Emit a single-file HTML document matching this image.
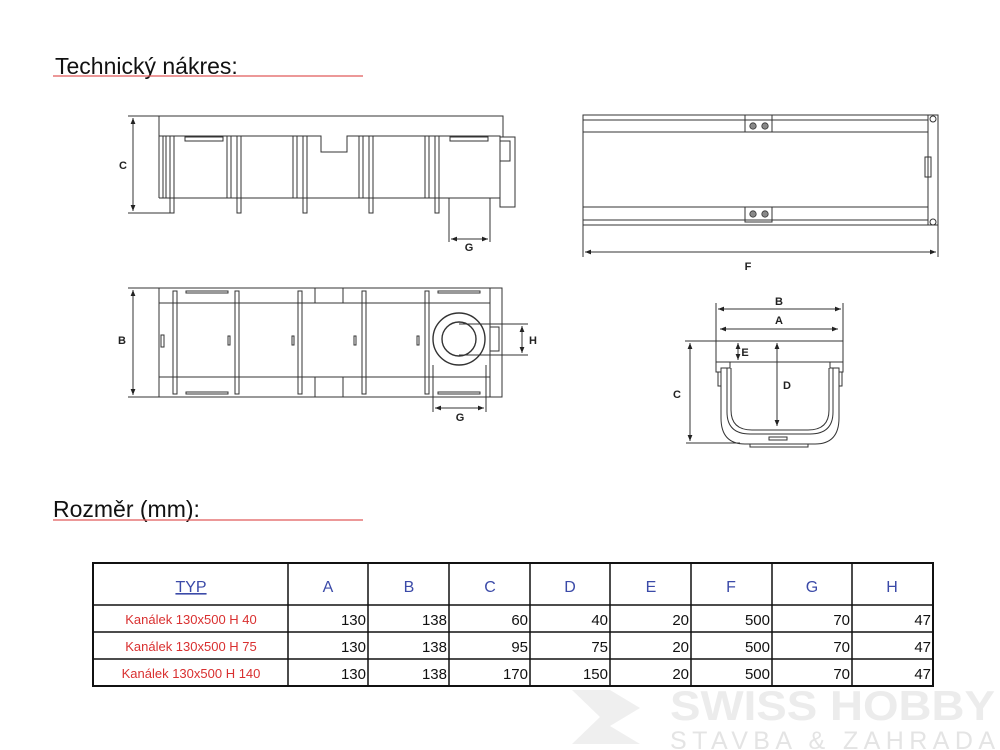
<!DOCTYPE html>
<html><head><meta charset="utf-8"><style>
html,body{margin:0;padding:0;background:#fff;}
svg{display:block}
text{font-family:"Liberation Sans",sans-serif}
</style></head><body>
<svg width="1000" height="750" viewBox="0 0 1000 750" xmlns="http://www.w3.org/2000/svg">
<defs>
<marker id="a" viewBox="0 0 10 10" refX="10" refY="5" markerWidth="6" markerHeight="6" orient="auto-start-reverse"><path d="M0,1 L10,5 L0,9z" fill="#222"/></marker>
</defs>
<rect width="1000" height="750" fill="#fff"/>
<!-- Titles -->
<text x="55" y="74" font-size="23" fill="#111">Technický nákres:</text>
<line x1="53" y1="76" x2="363" y2="76" stroke="#e05a5a" stroke-width="1.2"/>
<text x="53" y="517" font-size="23" fill="#111">Rozměr (mm):</text>
<line x1="53" y1="520" x2="363" y2="520" stroke="#e05a5a" stroke-width="1.2"/>

<g fill="none" stroke="#333" stroke-width="1">
<!-- Side view -->
<path d="M159,198 V116 H503 V137"/>
<path d="M159,136 H321 V152 H347 V136 H500 V198"/>
<line x1="159" y1="198" x2="500" y2="198"/>
<rect x="500" y="137" width="15" height="70"/>
<rect x="500" y="141" width="10" height="20"/>
<rect x="185" y="137" width="38" height="4"/>
<rect x="450" y="137" width="38" height="4"/>
<g>
<rect x="170" y="136" width="4" height="77"/><rect x="163" y="136" width="3" height="62"/>
<rect x="227" y="136" width="4" height="62"/><rect x="237" y="136" width="4" height="77"/>
<rect x="293" y="136" width="4" height="62"/><rect x="303" y="136" width="4" height="77"/>
<rect x="359" y="136" width="4" height="62"/><rect x="369" y="136" width="4" height="77"/>
<rect x="425" y="136" width="4" height="62"/><rect x="435" y="136" width="4" height="77"/>
</g>
<path d="M449,198 V213 M490,198 V213 M449,213 V242 M490,213 V242"/>
<line x1="451" y1="239" x2="488" y2="239" marker-start="url(#a)" marker-end="url(#a)"/>
<line x1="128" y1="116" x2="159" y2="116"/><line x1="128" y1="213" x2="174" y2="213"/>
<line x1="133" y1="118" x2="133" y2="211" marker-start="url(#a)" marker-end="url(#a)"/>

<!-- Plan view -->
<rect x="159" y="288" width="343" height="109"/>
<line x1="159" y1="303" x2="490" y2="303"/><line x1="159" y1="377" x2="490" y2="377"/>
<line x1="490" y1="288" x2="490" y2="397"/>
<line x1="315" y1="288" x2="315" y2="303"/><line x1="343" y1="288" x2="343" y2="303"/>
<line x1="315" y1="377" x2="315" y2="397"/><line x1="343" y1="377" x2="343" y2="397"/>
<g>
<rect x="173" y="291" width="4" height="103"/><rect x="235" y="291" width="4" height="103"/>
<rect x="298" y="291" width="4" height="103"/><rect x="362" y="291" width="4" height="103"/>
<rect x="425" y="291" width="4" height="103"/>
<rect x="186" y="291" width="42" height="2"/><rect x="186" y="392" width="42" height="2"/>
<rect x="438" y="291" width="42" height="2"/><rect x="438" y="392" width="42" height="2"/>
<rect x="161" y="335" width="3" height="12"/><rect x="228" y="336" width="2" height="9"/>
<rect x="292" y="336" width="2" height="9"/><rect x="354" y="336" width="2" height="9"/>
<rect x="417" y="336" width="2" height="9"/>
<rect x="490" y="327" width="9" height="24"/>
</g>
<circle cx="459" cy="339" r="26" stroke-width="1.4"/>
<circle cx="459" cy="339" r="17" stroke-width="1.4"/>
<path d="M459,324 H528 M459,355 H528"/>
<line x1="522" y1="326" x2="522" y2="353" marker-start="url(#a)" marker-end="url(#a)"/>
<path d="M433,365 V412 M486,365 V412"/>
<line x1="435" y1="408" x2="484" y2="408" marker-start="url(#a)" marker-end="url(#a)"/>
<line x1="128" y1="288" x2="159" y2="288"/><line x1="128" y1="397" x2="159" y2="397"/>
<line x1="133" y1="290" x2="133" y2="395" marker-start="url(#a)" marker-end="url(#a)"/>

<!-- Top right long view -->
<rect x="583" y="115" width="345" height="110"/>
<line x1="583" y1="120" x2="928" y2="120"/><line x1="583" y1="132" x2="928" y2="132"/>
<line x1="583" y1="207" x2="928" y2="207"/><line x1="583" y1="220" x2="928" y2="220"/>
<rect x="745" y="115" width="27" height="17"/><rect x="745" y="207" width="27" height="15"/>
<rect x="928" y="115" width="10" height="110"/>
<rect x="925" y="157" width="6" height="20"/>
<circle cx="933" cy="119" r="3"/><circle cx="933" cy="222" r="3"/>
<path d="M583,225 V257 M938,225 V257"/>
<line x1="585" y1="252" x2="936" y2="252" marker-start="url(#a)" marker-end="url(#a)"/>

<!-- Cross section -->
<path d="M716,303 V362 M843,303 V362"/>
<line x1="718" y1="309" x2="841" y2="309" marker-start="url(#a)" marker-end="url(#a)"/>
<line x1="720" y1="329" x2="838" y2="329" marker-start="url(#a)" marker-end="url(#a)"/>
<line x1="685" y1="341" x2="843" y2="341"/>
<line x1="686" y1="443" x2="740" y2="443"/>
<line x1="690" y1="343" x2="690" y2="441" marker-start="url(#a)" marker-end="url(#a)"/>
<line x1="738" y1="343" x2="738" y2="360" marker-start="url(#a)" marker-end="url(#a)"/>
<line x1="777" y1="343" x2="777" y2="426" marker-start="url(#a)" marker-end="url(#a)"/>
<path d="M716,362 H730 V368 H721 V418 Q721,444 745,444 H815 Q839,444 839,418 V368 H830 V362 H843"/>
<path d="M730,362 H830"/>
<path d="M716,362 V372 H721 M843,362 V372 H839"/>
<path d="M727,368 V412 Q727,434 750,434 H810 Q833,434 833,412 V368"/>
<path d="M731,368 V410 Q731,430 752,430 H808 Q829,430 829,410 V368"/>
<rect x="718" y="372" width="3" height="14"/><rect x="839" y="372" width="3" height="14"/>
<path d="M750,444 V447 H808 V444"/>
<rect x="769" y="437" width="18" height="3"/>
</g>
<g fill="#888" stroke="#333" stroke-width="0.8">
<circle cx="753" cy="126" r="3.2"/><circle cx="765" cy="126" r="3.2"/>
<circle cx="753" cy="214" r="3.2"/><circle cx="765" cy="214" r="3.2"/>
</g>
<g font-size="11" font-weight="bold" fill="#222" text-anchor="middle">
<text x="123" y="169">C</text>
<text x="469" y="251">G</text>
<text x="122" y="344">B</text>
<text x="533" y="344">H</text>
<text x="460" y="421">G</text>
<text x="748" y="270">F</text>
<text x="779" y="305">B</text>
<text x="779" y="324">A</text>
<text x="677" y="398">C</text>
<text x="745" y="356">E</text>
<text x="787" y="389">D</text>
</g>

<!-- Watermark -->
<g fill="#efefef">
<path d="M572,690 L610,690 L640,708 L610,726 L640,744 L572,744 L600,717 Z"/>
</g>
<text x="670" y="720" font-size="42" font-weight="bold" fill="#ececec" textLength="325" lengthAdjust="spacingAndGlyphs">SWISS HOBBY</text>
<text x="670" y="749" font-size="25" fill="#e4e4e4" textLength="325" lengthAdjust="spacing">STAVBA &amp; ZAHRADA</text>

<!-- Table -->
<g stroke="#111" fill="none">
<rect x="93" y="563" width="840" height="123" stroke-width="2"/>
<line x1="93" y1="605" x2="933" y2="605" stroke-width="1.5"/>
<line x1="93" y1="632" x2="933" y2="632" stroke-width="1.5"/>
<line x1="93" y1="659" x2="933" y2="659" stroke-width="1.5"/>
<g stroke-width="1.5">
<line x1="288" y1="563" x2="288" y2="686"/><line x1="368" y1="563" x2="368" y2="686"/>
<line x1="449" y1="563" x2="449" y2="686"/><line x1="530" y1="563" x2="530" y2="686"/>
<line x1="610" y1="563" x2="610" y2="686"/><line x1="691" y1="563" x2="691" y2="686"/>
<line x1="772" y1="563" x2="772" y2="686"/><line x1="852" y1="563" x2="852" y2="686"/>
</g>
</g>
<g font-size="16" fill="#3b4aa8" text-anchor="middle">
<text x="191" y="592" text-decoration="underline">TYP</text>
<text x="328" y="592">A</text><text x="409" y="592">B</text><text x="490" y="592">C</text>
<text x="570" y="592">D</text><text x="651" y="592">E</text><text x="731" y="592">F</text>
<text x="812" y="592">G</text><text x="892" y="592">H</text>
</g>
<g font-size="13" fill="#d93030" text-anchor="middle">
<text x="191" y="624">Kanálek 130x500 H 40</text>
<text x="191" y="651">Kanálek 130x500 H 75</text>
<text x="191" y="678">Kanálek 130x500 H 140</text>
</g>
<g font-size="15" fill="#111" text-anchor="end">
<text x="366" y="625">130</text><text x="447" y="625">138</text><text x="528" y="625">60</text><text x="608" y="625">40</text><text x="689" y="625">20</text><text x="770" y="625">500</text><text x="850" y="625">70</text><text x="931" y="625">47</text>
<text x="366" y="652">130</text><text x="447" y="652">138</text><text x="528" y="652">95</text><text x="608" y="652">75</text><text x="689" y="652">20</text><text x="770" y="652">500</text><text x="850" y="652">70</text><text x="931" y="652">47</text>
<text x="366" y="679">130</text><text x="447" y="679">138</text><text x="528" y="679">170</text><text x="608" y="679">150</text><text x="689" y="679">20</text><text x="770" y="679">500</text><text x="850" y="679">70</text><text x="931" y="679">47</text>
</g>
</svg>
</body></html>
